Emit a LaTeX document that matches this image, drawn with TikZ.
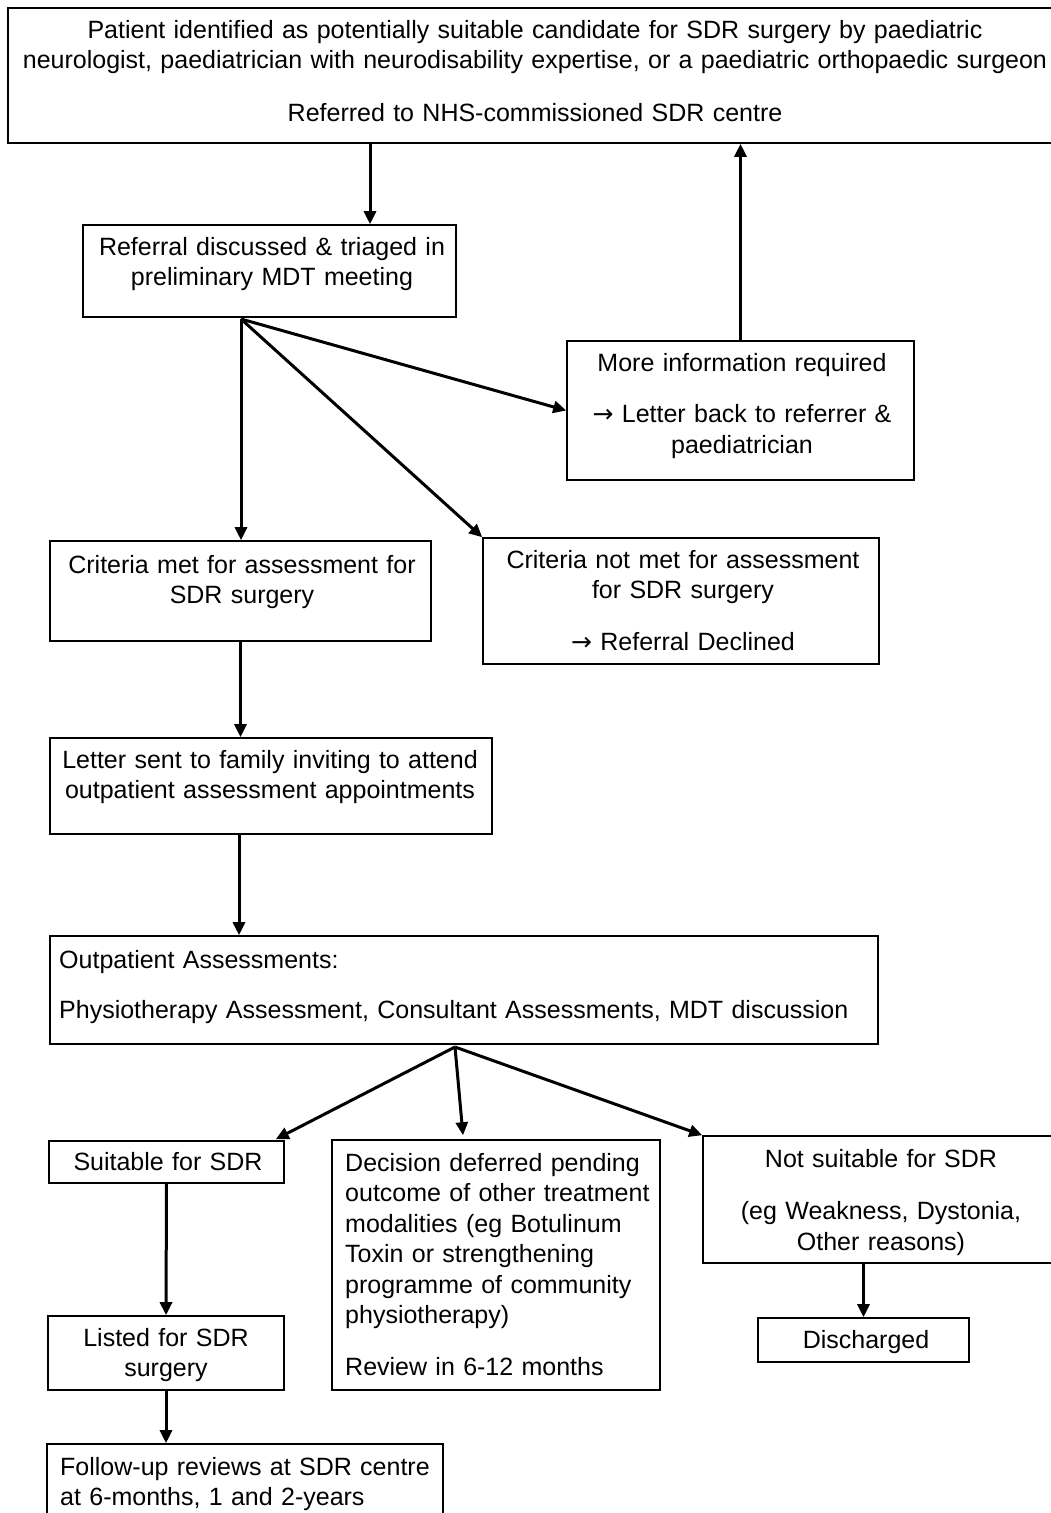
\documentclass[tikz,border=0pt]{standalone}
\usepackage{fontspec}
\setmainfont{Liberation Sans}
\newfontfamily\arrfont{DejaVu Sans}
\newcommand{\myarrow}{{\arrfont →}}
\usetikzlibrary{arrows.meta,calc}
\begin{document}
\begin{tikzpicture}[x=1pt,y=-1pt,
  box/.style={draw=black, line width=1.6pt, inner sep=0pt, rectangle},
  txt/.style={inner sep=0pt, font=\fontsize{25}{30.5}\selectfont},
  ctxt/.style={txt, align=center, anchor=base},
  ltxt/.style={txt, align=left, anchor=base west},
  arr/.style={line width=3pt, -{Triangle[length=13pt,width=12pt]}}]
\useasboundingbox (0,0) rectangle (1051,1513);
\fill[white] (0,0) rectangle (1051,1513);

% boxes
\node[box, minimum width=1054pt, minimum height=135pt] (top) at (535,75.5) {};
\node[box, minimum width=373pt, minimum height=92pt] (ref) at (269.5,271) {};
\node[box, minimum width=347pt, minimum height=139pt] (more) at (740.5,410.5) {};
\node[box, minimum width=381pt, minimum height=100pt] (met) at (240.5,591) {};
\node[box, minimum width=396pt, minimum height=126pt] (notmet) at (681,601) {};
\node[box, minimum width=442pt, minimum height=96pt] (letter) at (271,786) {};
\node[box, minimum width=828pt, minimum height=108pt] (outp) at (464,990) {};
\node[box, minimum width=235pt, minimum height=42pt] (suit) at (166.5,1162) {};
\node[box, minimum width=328pt, minimum height=250pt] (dec) at (496,1265) {};
\node[box, minimum width=356pt, minimum height=127pt] (notsuit) at (881,1199.5) {};
\node[box, minimum width=236pt, minimum height=74pt] (listed) at (166,1353) {};
\node[box, minimum width=211pt, minimum height=44pt] (disch) at (863.5,1340) {};
\node[box, minimum width=396pt, minimum height=116pt] (follow) at (245,1502) {};

% texts
\node[ctxt, text width=1100pt] (ttop) at (535,38) {Patient identified as potentially suitable candidate for SDR surgery by paediatric\\ neurologist, paediatrician with neurodisability expertise, or a paediatric orthopaedic surgeon\\[22pt] Referred to NHS-commissioned SDR centre};
\node[ctxt, text width=420pt] (tref) at (272,255) {Referral discussed \& triaged in\\ preliminary MDT meeting};
\node[ctxt, text width=400pt] (tmore) at (742,371) {More information required\\[21pt] \myarrow{} Letter back to referrer \&\\ paediatrician};
\node[ctxt, text width=440pt] (tmet) at (242,573) {Criteria met for assessment for\\ SDR surgery};
\node[ctxt, text width=440pt] (tnotmet) at (683,568) {Criteria not met for assessment\\ for SDR surgery\\[21pt] \myarrow{} Referral Declined};
\node[ctxt, text width=480pt] (tletter) at (270,768) {Letter sent to family inviting to attend\\ outpatient assessment appointments};
\node[ltxt, text width=900pt] (toutp) at (59,968) {Outpatient Assessments:\\[19.5pt] Physiotherapy Assessment, Consultant Assessments, MDT discussion};
\node[ctxt, text width=300pt] (tsuit) at (168,1170) {Suitable for SDR};
\node[ltxt, text width=400pt] (tdec) at (345,1171) {Decision deferred pending\\ outcome of other treatment\\ modalities (eg Botulinum\\ Toxin or strengthening\\ programme of community\\ physiotherapy)\\[21.5pt] Review in 6-12 months};
\node[ctxt, text width=400pt] (tnotsuit) at (881,1167) {Not suitable for SDR\\[22pt] (eg Weakness, Dystonia,\\ Other reasons)};
\node[ctxt, text width=300pt] (tlisted) at (166,1346) {Listed for SDR\\ surgery};
\node[ctxt, text width=300pt] (tdisch) at (866,1348) {Discharged};
\node[ltxt, text width=500pt] (tfollow) at (60,1475) {Follow-up reviews at SDR centre\\ at 6-months, 1 and 2-years};

% connectors
\coordinate (a1) at (370,0);
\draw[arr] (top.south -| a1) -- (ref.north -| a1);
\draw[arr] (more.north) -- (top.south -| more.north);
\coordinate (f1) at (241,319);
\draw[arr] (f1) -- (f1 |- met.north);
\draw[arr] (f1) -- (more.west);
\draw[arr] (f1) -- (notmet.north west);
\draw[arr] (met.south) -- (met.south |- letter.north);
\coordinate (a2) at (239,0);
\draw[arr] (letter.south -| a2) -- (outp.north -| a2);
\coordinate (f2) at (455,1047);
\draw[arr] (f2) -- ($(suit.north east)+(-9,-1)$);
\coordinate (a3) at (463,0);
\draw[arr] (f2) -- ($(dec.north -| a3)+(0,-4)$);
\draw[arr] (f2) -- (notsuit.north west);
\draw[arr] (suit.south) -- (listed.north);
\draw[arr] (listed.south) -- (follow.north -| listed.south);
\draw[arr] (notsuit.south -| disch.north) -- (disch.north);
\end{tikzpicture}
\end{document}
